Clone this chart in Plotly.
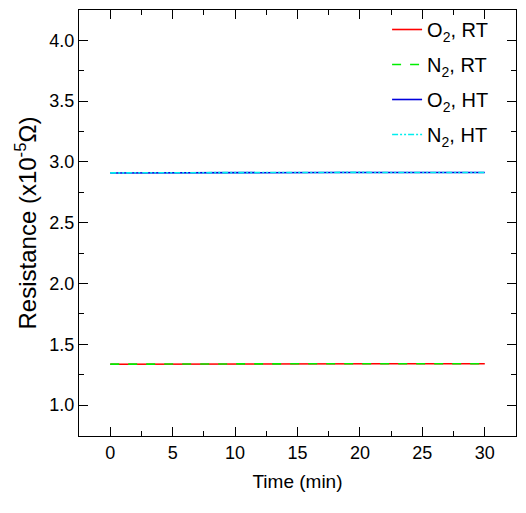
import plotly.graph_objects as go

time_min = [0, 2, 4, 6, 8, 10, 12, 14, 16, 18, 20, 22, 24, 26, 28, 30]
o2_rt = [1.335, 1.336, 1.337, 1.338, 1.338, 1.339, 1.339, 1.340, 1.338, 1.339, 1.339, 1.340, 1.339, 1.340, 1.339, 1.339]
n2_rt = [1.336, 1.337, 1.338, 1.338, 1.339, 1.339, 1.340, 1.339, 1.339, 1.340, 1.340, 1.339, 1.340, 1.340, 1.339, 1.340]
o2_ht = [2.909, 2.910, 2.911, 2.911, 2.912, 2.912, 2.912, 2.913, 2.912, 2.913, 2.913, 2.912, 2.913, 2.913, 2.912, 2.913]
n2_ht = [2.910, 2.911, 2.911, 2.912, 2.912, 2.913, 2.913, 2.913, 2.913, 2.913, 2.914, 2.913, 2.913, 2.914, 2.913, 2.913]

names = ["O<sub>2</sub>, RT", "N<sub>2</sub>, RT", "O<sub>2</sub>, HT", "N<sub>2</sub>, HT"]
colors = ["#ff0000", "#00ee00", "#0000dd", "#00eeee"]
dashes = ["solid", "dash", "solid", "6px,2px,2px,2px,2px,2px"]
series = [o2_rt, n2_rt, o2_ht, n2_ht]

fig = go.Figure()
for i, (nm, ys, c, d) in enumerate(zip(names, series, colors, dashes)):
    fig.add_trace(go.Scatter(x=time_min, y=ys, mode="lines", name=nm, legendgroup=f"g{i}",
                             line=dict(color=c, width=1.6, dash=d)))

axis_common = dict(showline=True, linecolor="black", linewidth=1.3, mirror="ticks",
                   ticks="inside", ticklen=9, tickwidth=1.3, tickcolor="black",
                   showgrid=False, zeroline=False,
                   tickfont=dict(family="Liberation Sans, Arial", size=18, color="black"))

fig.update_xaxes(range=[-2.5, 32.5], dtick=5, tick0=0,
                 minor=dict(ticks="inside", ticklen=5, dtick=2.5, tick0=0, tickcolor="black", tickwidth=1.3),
                 title=dict(text="Time (min)", font=dict(family="Liberation Sans Narrow, Liberation Sans, Arial", size=19, color="black"), standoff=12),
                 **axis_common)
fig.update_yaxes(range=[0.745, 4.25], dtick=0.5, tick0=1.0, tickformat=".1f",
                 minor=dict(ticks="inside", ticklen=5, dtick=0.25, tick0=1.0, tickcolor="black", tickwidth=1.3),
                 title=dict(text="Resistance (x10<sup>-5</sup>Ω)", font=dict(family="Liberation Sans, Arial", size=24, color="black"), standoff=5),
                 **axis_common)

fig.update_layout(width=526, height=513, margin=dict(l=79, r=10, t=10, b=77),
                  plot_bgcolor="white", paper_bgcolor="white",
                  legend=dict(x=0.705, y=1.0, xanchor="left", yanchor="top", bgcolor="rgba(0,0,0,0)",
                              font=dict(family="Liberation Sans, Arial", size=20, color="black"),
                              tracegroupgap=6))

fig.write_html("out.html")
